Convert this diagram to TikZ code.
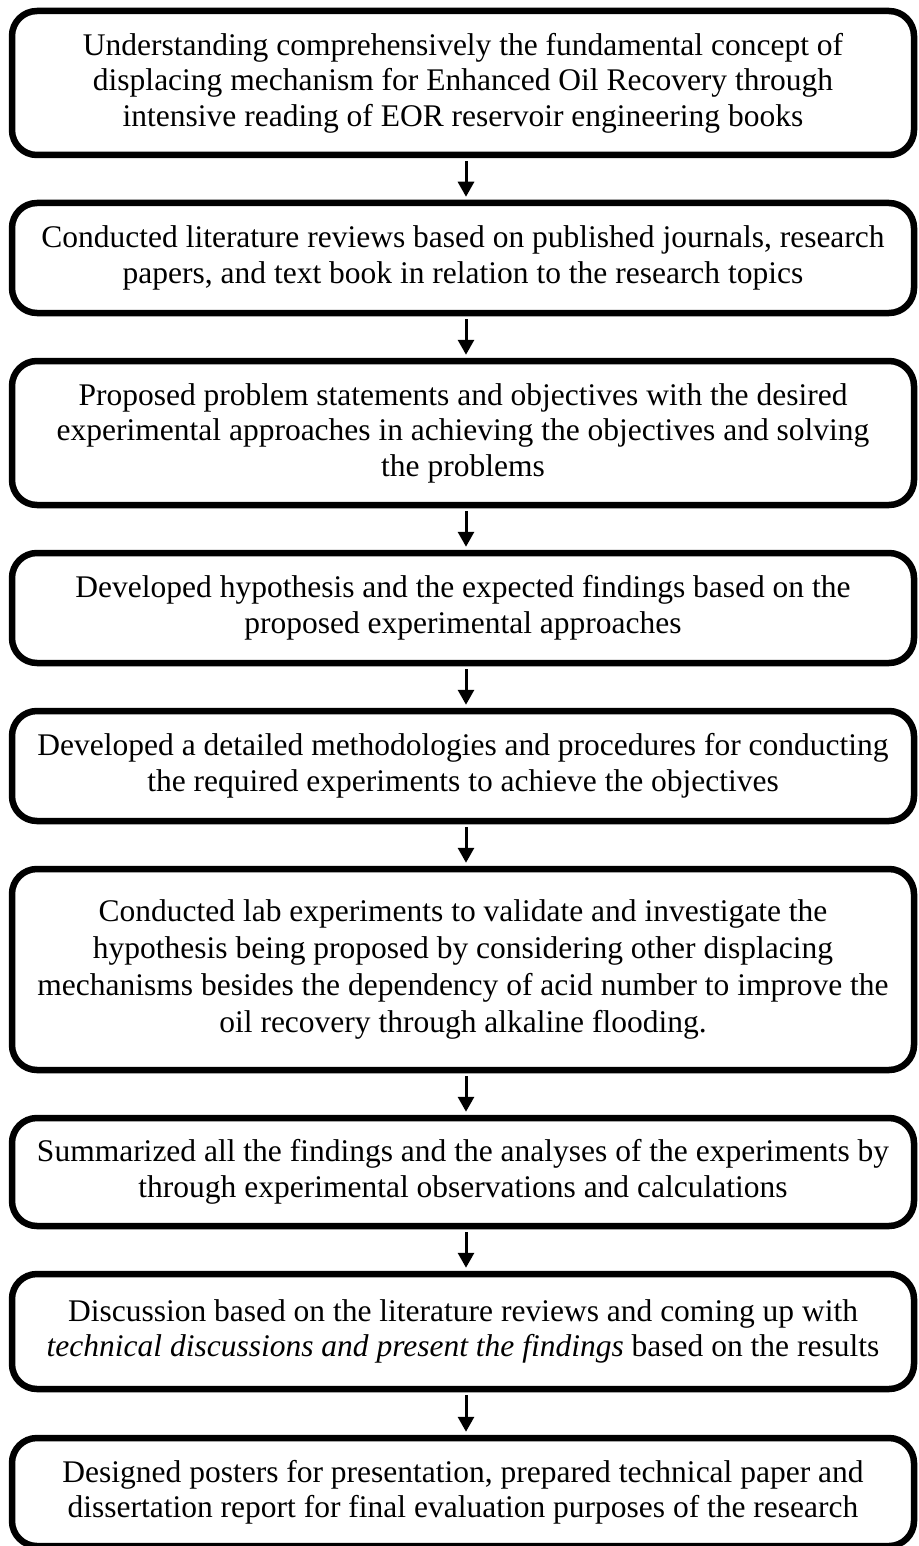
\documentclass[tikz,border=0pt]{standalone}
\usepackage{fontspec}
\setmainfont{Liberation Serif}
\usetikzlibrary{arrows.meta}
\begin{document}
\begin{tikzpicture}[x=1pt,y=-1pt,
  stage/.style={draw=black, line width=6.5pt, rounded corners=25pt,
    minimum width=902pt, align=center, inner sep=0pt,
    font=\fontsize{31.5}{35.5}\selectfont},
  flow/.style={line width=3pt, -{Triangle[length=15pt,width=16pt]}, shorten >=3pt, shorten <=3pt}]
\useasboundingbox (0,0) rectangle (918,1546);

\node[stage, minimum height=144pt] (s1) at (463,83)
  {Understanding comprehensively the fundamental concept of\\
   displacing mechanism for Enhanced Oil Recovery through\\
   intensive reading of EOR reservoir engineering books};
\node[stage, minimum height=110pt] (s2) at (463,258)
  {Conducted literature reviews based on published journals, research\\
   papers, and text book in relation to the research topics};
\node[stage, minimum height=144pt] (s3) at (463,433)
  {Proposed problem statements and objectives with the desired\\
   experimental approaches in achieving the objectives and solving\\
   the problems};
\node[stage, minimum height=110pt] (s4) at (463,608)
  {Developed hypothesis and the expected findings based on the\\
   proposed experimental approaches};
\node[stage, minimum height=110pt] (s5) at (463,766)
  {Developed a detailed methodologies and procedures for conducting\\
   the required experiments to achieve the objectives};
\node[stage, minimum height=201pt, font=\fontsize{31.5}{37}\selectfont] (s6) at (463,969.5)
  {Conducted lab experiments to validate and investigate the\\
   hypothesis being proposed by considering other displacing\\
   mechanisms besides the dependency of acid number to improve the\\
   oil recovery through alkaline flooding.};
\node[stage, minimum height=108pt] (s7) at (463,1172)
  {Summarized all the findings and the analyses of the experiments by\\
   through experimental observations and calculations};
\node[stage, minimum height=115pt] (s8) at (463,1331.5)
  {Discussion based on the literature reviews and coming up with\\
   \textit{technical discussions and present the findings} based on the results};
\node[stage, minimum height=108pt] (s9) at (463,1492)
  {Designed posters for presentation, prepared technical paper and\\
   dissertation report for final evaluation purposes of the research};

% connectors between consecutive stages
\foreach \a/\b in {s1/s2,s2/s3,s3/s4,s4/s5,s5/s6,s6/s7,s7/s8,s8/s9}
  \draw[flow] ([xshift=3pt]\a.south) -- ([xshift=3pt]\b.north);
\end{tikzpicture}
\end{document}
